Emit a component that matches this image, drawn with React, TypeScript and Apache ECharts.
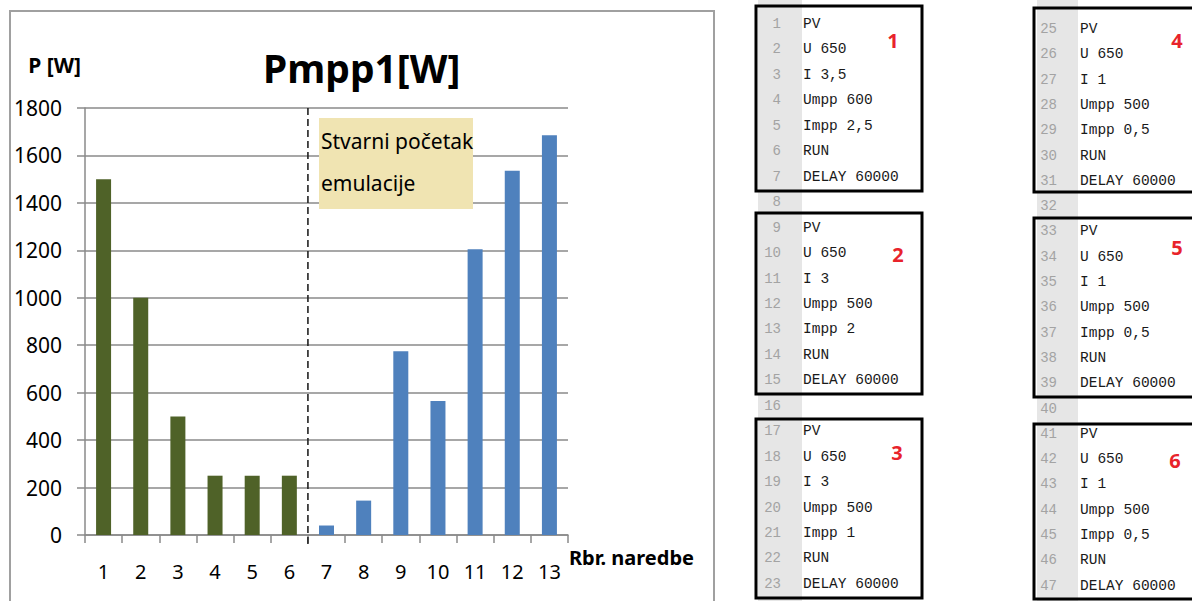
import React, { useEffect, useRef } from 'react';
import * as echarts from 'echarts';

// ---------- data ----------
const categories = ['1', '2', '3', '4', '5', '6', '7', '8', '9', '10', '11', '12', '13'];
const greenValues = [1500, 1000, 500, 250, 250, 250];
const blueValues = [40, 145, 775, 565, 1205, 1535, 1685];
const yMin = 0;
const yMax = 1800;
const yInterval = 200;
const titleText = 'Pmpp1[W]';
const yName = 'P [W]';
const xName = 'Rbr. naredbe';
const noteLines = ['Stvarni početak', 'emulacije'];
const codeBlocks = [
  ['PV', 'U 650', 'I 3,5', 'Umpp 600', 'Impp 2,5', 'RUN', 'DELAY 60000'],
  ['PV', 'U 650', 'I 3', 'Umpp 500', 'Impp 2', 'RUN', 'DELAY 60000'],
  ['PV', 'U 650', 'I 3', 'Umpp 500', 'Impp 1', 'RUN', 'DELAY 60000'],
  ['PV', 'U 650', 'I 1', 'Umpp 500', 'Impp 0,5', 'RUN', 'DELAY 60000'],
  ['PV', 'U 650', 'I 1', 'Umpp 500', 'Impp 0,5', 'RUN', 'DELAY 60000'],
  ['PV', 'U 650', 'I 1', 'Umpp 500', 'Impp 0,5', 'RUN', 'DELAY 60000'],
];
const blockTags = ['1', '2', '3', '4', '5', '6'];

// ---------- layout / style ----------
const SANS = '"Noto Sans", "Open Sans", sans-serif';
const MONO = '"Liberation Mono", "DejaVu Sans Mono", monospace';
const GREEN = '#4F6228';
const BLUE = '#4F81BD';
const GRID_GRAY = '#8a8a8a';

const columns = [
  {
    blocks: [0, 1, 2], firstLine: 1, y0: 24, lh: 25.45, numRight: 781, codeX: 803,
    gutterX: 758, gutterW: 44, boxX: 756, boxW: 166,
    boxes: [[6, 191], [213, 394], [419, 598]],
    tags: [[893, 40], [898, 254], [897, 452]],
  },
  {
    blocks: [3, 4, 5], firstLine: 25, y0: 29, lh: 25.3, numRight: 1057, codeX: 1080,
    gutterX: 1037, gutterW: 41, boxX: 1034, boxW: 200,
    boxes: [[8, 192], [218, 397], [424, 599]],
    tags: [[1177, 40], [1177, 247], [1175, 460]],
  },
];

function txt(x: number, y: number, text: string, o: any) {
  return {
    type: 'text', x, y, z: o.z ?? 20,
    style: {
      text,
      fontSize: o.fontSize, fontFamily: o.fontFamily, fontWeight: o.fontWeight || 'normal',
      fill: o.fill, align: o.align || 'left', textAlign: o.align || 'left',
      verticalAlign: o.va || 'middle', textVerticalAlign: o.va || 'middle',
      lineHeight: o.lineHeight,
    },
  };
}

function buildCodeGraphics() {
  const els: any[] = [];
  columns.forEach((col) => {
    els.push({ type: 'rect', z: 5, shape: { x: col.gutterX, y: 0, width: col.gutterW, height: 601 }, style: { fill: '#e6e6e6' } });
    col.blocks.forEach((b, j) => {
      const lines = codeBlocks[b];
      lines.forEach((line, i) => {
        const li = j * 8 + i;
        const y = col.y0 + li * col.lh;
        els.push(txt(col.numRight, y, String(col.firstLine + li), { fontSize: 14, fontFamily: MONO, fill: '#a3a3a3', align: 'right' }));
        els.push(txt(col.codeX, y, line, { fontSize: 14.5, fontFamily: MONO, fill: '#1a1a1a', align: 'left' }));
      });
      if (j < 2) {
        const li = j * 8 + 7;
        els.push(txt(col.numRight, col.y0 + li * col.lh, String(col.firstLine + li), { fontSize: 14, fontFamily: MONO, fill: '#a3a3a3', align: 'right' }));
      }
      const [t, bt] = col.boxes[j];
      els.push({ type: 'rect', z: 25, shape: { x: col.boxX, y: t, width: col.boxW, height: bt - t }, style: { fill: 'none', stroke: '#000', lineWidth: 3 } });
      const [tx, ty] = col.tags[j];
      els.push(txt(tx, ty, blockTags[b], { fontSize: 20, fontFamily: SANS, fontWeight: 'bold', fill: '#e8232b', align: 'center' }));
    });
  });
  return els;
}

export default function App() {
  const ref = useRef<HTMLDivElement>(null);
  useEffect(() => {
    document.body.style.margin = '0';
    document.body.style.background = '#fff';
    const chart = echarts.init(ref.current!, null, { renderer: 'svg' });
    const greenData = categories.map((_, i) => (i < greenValues.length ? greenValues[i] : '-'));
    const blueData = categories.map((_, i) => (i >= greenValues.length ? blueValues[i - greenValues.length] : '-'));
    const option: any = {
      animation: false,
      backgroundColor: '#fff',
      title: {
        text: titleText, left: 263, top: 48, padding: 0,
        textStyle: { fontFamily: SANS, fontSize: 39, fontWeight: 'bold', color: '#000' },
      },
      grid: { left: 85, right: 1192 - 568, top: 108, bottom: 601 - 535, containLabel: false },
      xAxis: {
        type: 'category', data: categories,
        name: xName, nameLocation: 'end', nameGap: 1,
        nameTextStyle: { fontFamily: SANS, fontSize: 20, fontWeight: 'bold', color: '#000', align: 'left', verticalAlign: 'top', padding: [12, 0, 0, 0] },
        axisLine: { show: true, lineStyle: { color: GRID_GRAY, width: 1.5 } },
        axisTick: { show: true, length: 8, lineStyle: { color: GRID_GRAY, width: 1.5 } },
        axisLabel: { fontFamily: SANS, fontSize: 20, color: '#000', margin: 26, interval: 0 },
      },
      yAxis: {
        type: 'value', min: yMin, max: yMax, interval: yInterval,
        name: yName, nameLocation: 'end', nameGap: 43,
        nameTextStyle: { fontFamily: SANS, fontSize: 21, fontWeight: 'bold', color: '#000', align: 'right', verticalAlign: 'middle', padding: [0, 4, 0, 0] },
        axisLine: { show: true, lineStyle: { color: GRID_GRAY, width: 1.5 } },
        axisTick: { show: true, length: 8, lineStyle: { color: GRID_GRAY, width: 1.5 } },
        axisLabel: { fontFamily: SANS, fontSize: 21, color: '#000', margin: 23, formatter: (v: number) => String(v) },
        splitLine: { show: true, lineStyle: { color: GRID_GRAY, width: 1.6 } },
      },
      series: [
        { type: 'bar', name: 'before', data: greenData, barWidth: 15, barGap: '-100%', itemStyle: { color: GREEN } },
        { type: 'bar', name: 'after', data: blueData, barWidth: 15, barGap: '-100%', itemStyle: { color: BLUE } },
      ],
    };
    chart.setOption(option);

    const x6 = chart.convertToPixel({ xAxisIndex: 0 }, categories[greenValues.length - 1]) as number;
    const x7 = chart.convertToPixel({ xAxisIndex: 0 }, categories[greenValues.length]) as number;
    const xSplit = (x6 + x7) / 2;
    const yTop = chart.convertToPixel({ yAxisIndex: 0 }, yMax) as number;
    const yBot = chart.convertToPixel({ yAxisIndex: 0 }, yMin) as number;

    const graphics: any[] = [
      { type: 'rect', z: 1, silent: true, shape: { x: 10, y: 11, width: 704, height: 600 }, style: { fill: 'none', stroke: '#a0a0a0', lineWidth: 2 } },
      { type: 'line', z: 15, shape: { x1: xSplit, y1: yTop, x2: xSplit, y2: yBot + 12 }, style: { stroke: '#222', lineWidth: 1.6, lineDash: [7, 4] } },
      { type: 'rect', z: 16, shape: { x: 319, y: 118, width: 154, height: 91 }, style: { fill: '#F0E4B2' } },
      txt(321, 120, noteLines.join('\n'), { fontSize: 21, fontFamily: SANS, fill: '#000', align: 'left', va: 'top', lineHeight: 42, z: 17 }),
      ...buildCodeGraphics(),
    ];
    chart.setOption({ graphic: { elements: graphics } });
    return () => chart.dispose();
  }, []);
  return <div ref={ref} style={{ position: 'fixed', left: 0, top: 0, width: 1192, height: 601 }} />;
}
